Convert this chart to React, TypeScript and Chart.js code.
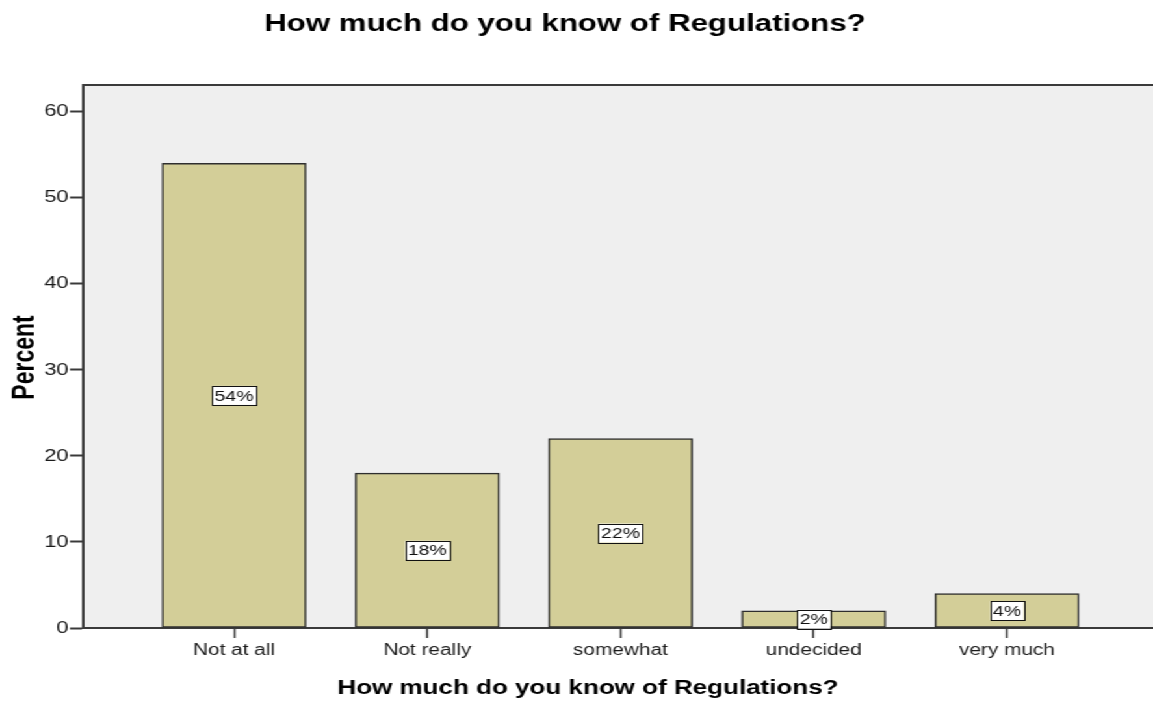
import React, { useEffect, useRef } from "react";
import { Chart, registerables } from "chart.js";

Chart.register(...registerables);

// ---- data ----
const categories = ["Not at all", "Not really", "somewhat", "undecided", "very much"];
const percentValues = [54, 18, 22, 2, 4];
const yTickStep = 10;
const yMax = 63.1;
const chartTitle = "How much do you know of Regulations?";
const xAxisTitle = "How much do you know of Regulations?";
const yAxisTitle = "Percent";

// ---- layout / style ----
const STRETCH = 1.3; // reference is horizontally stretched
const W = 887;
const H = 703;
const FONT = '"Liberation Sans", Arial, Helvetica, sans-serif';
const BAR_FILL = "#D3CE98";
const PLOT_BG = "#EFEFEF";
const LINE = "#3a3a3a";

const decorPlugin = {
  id: "decor",
  beforeDraw(chart: any) {
    const { ctx, chartArea: a } = chart;
    ctx.save();
    ctx.fillStyle = PLOT_BG;
    ctx.fillRect(a.left, a.top, a.right - a.left, a.bottom - a.top);
    ctx.strokeStyle = LINE;
    ctx.lineWidth = 2;
    ctx.beginPath();
    ctx.moveTo(a.left, a.top);
    ctx.lineTo(a.right, a.top);
    ctx.stroke();

    ctx.fillStyle = "#000";
    ctx.textAlign = "center";
    ctx.textBaseline = "alphabetic";
    ctx.font = `bold 24px ${FONT}`;
    ctx.fillText(chartTitle, 434.6, 31);

    ctx.font = `bold 20px ${FONT}`;
    ctx.fillText(xAxisTitle, 452.3, 694);

    ctx.save();
    ctx.translate(25.6, 357.5);
    ctx.rotate(-Math.PI / 2);
    ctx.font = `bold 23px ${FONT}`;
    ctx.fillText(yAxisTitle, 0, 0);
    ctx.restore();
    ctx.restore();
  },
  afterDatasetsDraw(chart: any) {
    const { ctx } = chart;
    const meta = chart.getDatasetMeta(0);
    ctx.save();
    ctx.font = `15px ${FONT}`;
    ctx.textAlign = "center";
    ctx.textBaseline = "middle";
    meta.data.forEach((bar: any, i: number) => {
      const txt = `${percentValues[i]}%`;
      const cy = (bar.y + bar.base) / 2;
      const tw = ctx.measureText(txt).width;
      const bw = tw + 4;
      const bh = 19;
      ctx.fillStyle = "#fff";
      ctx.fillRect(bar.x - bw / 2, cy - bh / 2, bw, bh);
      ctx.strokeStyle = "#111";
      ctx.lineWidth = 1;
      ctx.strokeRect(Math.round(bar.x - bw / 2) + 0.5, Math.round(cy - bh / 2) + 0.5, Math.round(bw), bh);
      ctx.fillStyle = "#111";
      ctx.fillText(txt, bar.x, cy + 1);
    });
    ctx.restore();
  },
};

export default function App() {
  const ref = useRef<HTMLCanvasElement | null>(null);

  useEffect(() => {
    if (!ref.current) return;
    const chart = new Chart(ref.current, {
      type: "bar",
      data: {
        datasets: [
          {
            data: categories.map((_, i) => ({ x: i, y: percentValues[i] })),
            backgroundColor: BAR_FILL,
            borderColor: "#2e2e2e",
            borderWidth: 1.5,
            borderSkipped: false,
            barThickness: 110.8,
          },
        ],
      },
      options: {
        animation: false,
        responsive: true,
        maintainAspectRatio: false,
        layout: { padding: { top: 85, left: 0, right: 0, bottom: 0 } },
        plugins: {
          legend: { display: false },
          title: { display: false },
          tooltip: { enabled: false },
        },
        scales: {
          x: {
            type: "linear",
            offset: false,
            min: -0.782,
            max: 4.756,
            afterBuildTicks: (scale: any) => {
              scale.ticks = categories.map((_, i) => ({ value: i }));
            },
            afterFit: (scale: any) => {
              scale.height = H - 628;
            },
            grid: {
              offset: false,
              drawOnChartArea: false,
              drawTicks: true,
              tickLength: 10,
              tickColor: LINE,
              tickWidth: 1.5,
            },
            border: { display: true, color: LINE, width: 2 },
            ticks: {
              autoSkip: false,
              maxRotation: 0,
              padding: 3,
              color: "#1a1a1a",
              font: { family: FONT, size: 16 },
              callback: (v: any) => categories[v as number] ?? "",
            },
          },
          y: {
            min: 0,
            max: yMax,
            afterFit: (scale: any) => {
              scale.width = 63.8;
            },
            grid: {
              drawOnChartArea: false,
              drawTicks: true,
              tickLength: 10,
              tickColor: LINE,
              tickWidth: 2,
            },
            border: { display: true, color: LINE, width: 2 },
            ticks: {
              stepSize: yTickStep,
              includeBounds: false,
              padding: 1,
              color: "#1a1a1a",
              font: { family: FONT, size: 17 },
            },
          },
        },
      },
      plugins: [decorPlugin],
    } as any);
    return () => chart.destroy();
  }, []);

  return (
    <div
      style={{
        position: "absolute",
        left: 0,
        top: 0,
        width: W,
        height: H,
        transform: `scaleX(${STRETCH})`,
        transformOrigin: "0 0",
        background: "#fff",
      }}
    >
      <canvas ref={ref} />
    </div>
  );
}
